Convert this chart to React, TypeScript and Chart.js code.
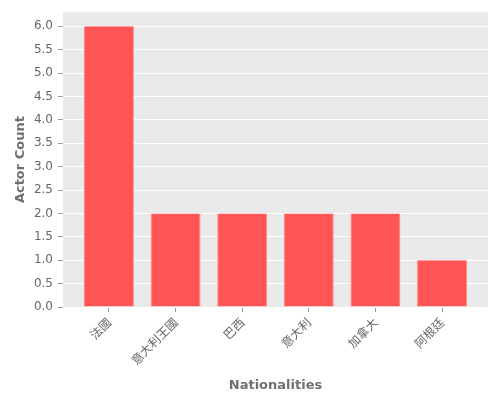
import React, { useEffect, useRef } from "react";
import Chart from "chart.js/auto";

const nationalities = ["法國", "意大利王國", "巴西", "意大利", "加拿大", "阿根廷"];
const actorCounts = [6, 2, 2, 2, 2, 1];
const yTickValues = [0, 0.5, 1, 1.5, 2, 2.5, 3, 3.5, 4, 4.5, 5, 5.5, 6];

const panelBackground = {
  id: "panelBackground",
  beforeDraw(chart: Chart) {
    const { ctx, chartArea } = chart;
    if (!chartArea) return;
    ctx.save();
    ctx.fillStyle = "#EAEAEA";
    ctx.fillRect(chartArea.left, chartArea.top, chartArea.right - chartArea.left, chartArea.bottom - chartArea.top);
    ctx.restore();
  },
};

const App: React.FC = () => {
  const canvasRef = useRef<HTMLCanvasElement>(null);

  useEffect(() => {
    let chartInstance: Chart | null = null;
    const ctx = canvasRef.current?.getContext("2d");

    if (ctx) {
      chartInstance = new Chart(ctx, {
        type: "bar",
        data: {
          datasets: [
            {
              label: "Actor Count",
              data: actorCounts.map((v, i) => ({ x: i, y: v })),
              backgroundColor: "#FF5555",
              borderColor: "#FF8A8A",
              borderWidth: { left: 1, right: 1, top: 0, bottom: 0 },
              barPercentage: 0.75,
              categoryPercentage: 1,
            },
          ],
        },
        options: {
          responsive: false,
          animation: false,
          layout: { padding: { top: 10, right: 12, left: 0, bottom: 0 } },
          plugins: {
            legend: { display: false },
            tooltip: { enabled: false },
          },
          scales: {
            x: {
              type: "linear",
              offset: false,
              min: -0.69,
              max: 5.69,
              afterBuildTicks: (scale) => {
                scale.ticks = nationalities.map((_, i) => ({ value: i }));
              },
              afterFit: (scale) => {
                scale.height = 93;
              },
              border: { display: false },
              grid: { offset: false, drawOnChartArea: false, tickColor: "#999999", tickLength: 5 },
              ticks: {
                autoSkip: false,
                minRotation: 45,
                maxRotation: 45,
                padding: 3,
                color: "#666666",
                font: { family: "'Noto Sans CJK TC', 'DejaVu Sans'", size: 12 },
                callback: (value) => nationalities[Number(value)] ?? "",
              },
              title: {
                display: true,
                text: "Nationalities",
                color: "#707070",
                font: { family: "DejaVu Sans", size: 13, weight: "bold" },
                padding: { top: 0, bottom: 7 },
              },
            },
            y: {
              min: 0,
              max: 6.3,
              afterBuildTicks: (scale) => {
                scale.ticks = yTickValues.map((v) => ({ value: v }));
              },
              afterFit: (scale) => {
                scale.width = 63;
              },
              border: { display: false },
              grid: { color: "#FFFFFF", tickColor: "#999999", tickLength: 5 },
              ticks: {
                padding: 5,
                color: "#666666",
                font: { family: "DejaVu Sans", size: 12 },
                callback: (value) => Number(value).toFixed(1),
              },
              title: {
                display: true,
                text: "Actor Count",
                color: "#707070",
                font: { family: "DejaVu Sans", size: 13, weight: "bold" },
                padding: { top: 13, bottom: 0 },
              },
            },
          },
        },
        plugins: [panelBackground],
      });
    }

    return () => {
      if (chartInstance) {
        chartInstance.destroy();
      }
    };
  }, []);

  return (
    <div style={{ position: "fixed", left: 0, top: 0, width: 500, height: 400, background: "#FFFFFF" }}>
      <canvas ref={canvasRef} width={500} height={400} />
    </div>
  );
};

export default App;
